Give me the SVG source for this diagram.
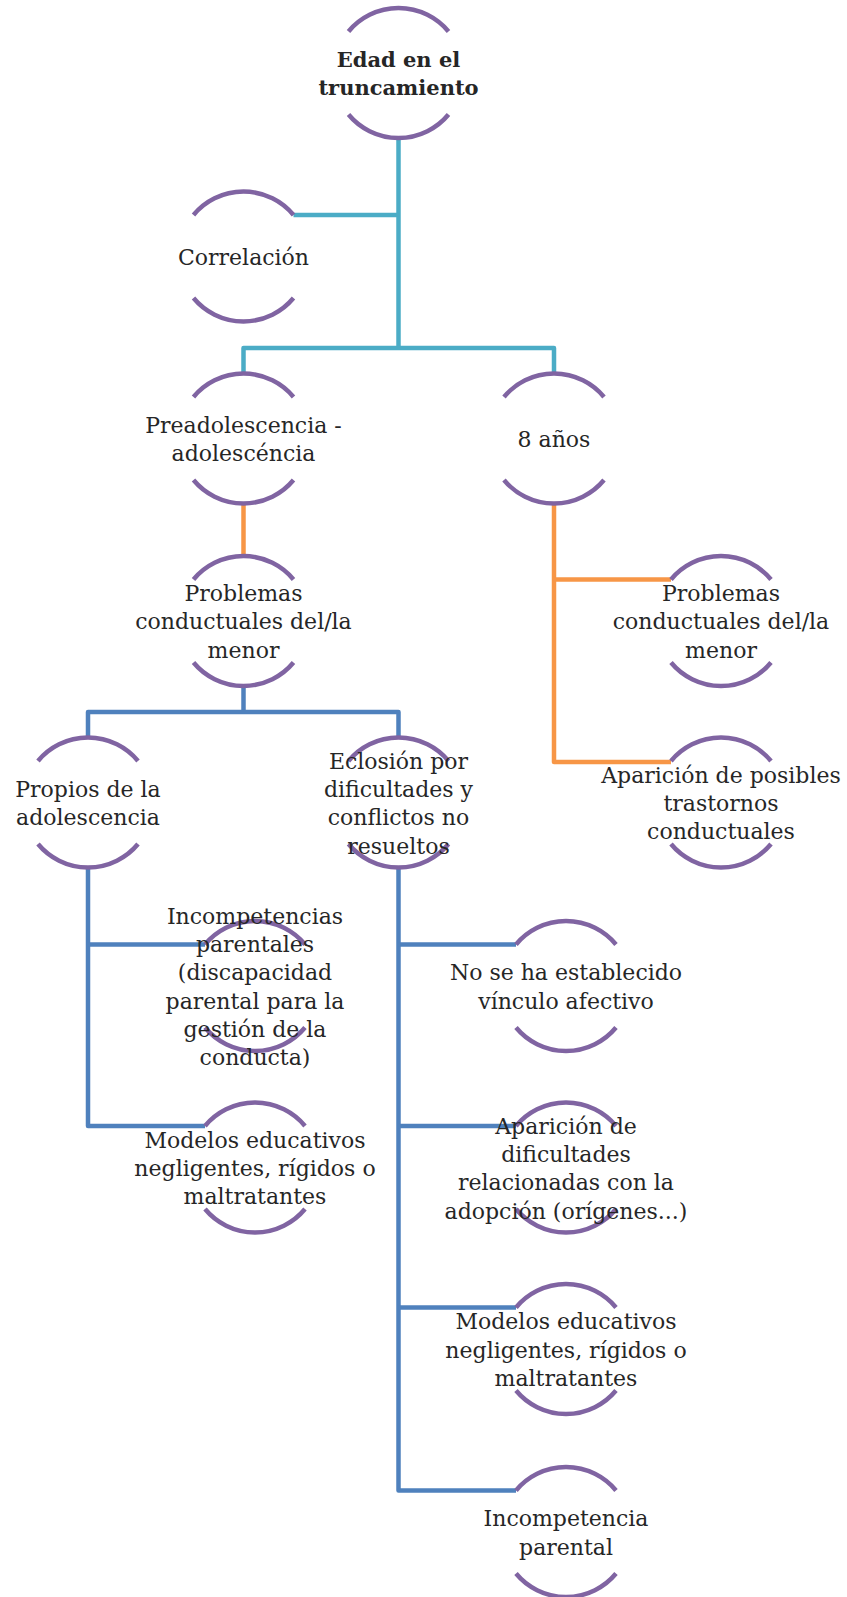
<svg xmlns="http://www.w3.org/2000/svg" xmlns:xlink="http://www.w3.org/1999/xlink" width="847" height="1597" viewBox="0 0 847 1597">
<style>
.arc{fill:none;stroke:#8064A2;stroke-width:4.5}
.lbl{font-family:"DejaVu Serif","Liberation Serif",serif;font-size:22px;fill:#262626;text-anchor:middle}
.bold{font-weight:bold;font-size:21px}
.c1{fill:none;stroke:#4BACC6;stroke-width:4.5;stroke-linejoin:round}
.c2{fill:none;stroke:#F79646;stroke-width:4.5;stroke-linejoin:round}
.c3{fill:none;stroke:#4F81BD;stroke-width:4.5;stroke-linejoin:round}
</style>
<defs>
<g id="ring">
<path class="arc" d="M-50 -41.5 A65 65 0 0 1 50 -41.5"/>
<path class="arc" d="M-50 41.5 A65 65 0 0 0 50 41.5"/>
</g>
</defs>
<rect width="847" height="1597" fill="#ffffff"/>
<g id="connectors">
<path class="c1" d="M398.5 138 V348"/>
<path class="c1" d="M398.5 215 H293.5"/>
<path class="c1" d="M243.5 373.5 V348 H554 V373.5"/>
<path class="c2" d="M243.5 503.5 V556"/>
<path class="c2" d="M554 503.5 V762 H671"/>
<path class="c2" d="M554 579.5 H671"/>
<path class="c3" d="M243.5 686 V712"/>
<path class="c3" d="M88 737.5 V712 H398.5 V737.5"/>
<path class="c3" d="M88 867.5 V1126 H205"/>
<path class="c3" d="M88 944.5 H205"/>
<path class="c3" d="M398.5 867.5 V1490.5 H516"/>
<path class="c3" d="M398.5 944.5 H516"/>
<path class="c3" d="M398.5 1126 H516"/>
<path class="c3" d="M398.5 1307.5 H516"/>
</g>
<g id="n-root">
<use href="#ring" xlink:href="#ring" transform="translate(398.5,73)"/>
<text class="lbl bold" x="398.5"><tspan x="398.5" y="67">Edad en el</tspan><tspan x="398.5" y="95">truncamiento</tspan></text>
</g>
<g id="n-correlacion">
<use href="#ring" xlink:href="#ring" transform="translate(243.5,256.5)"/>
<text class="lbl" x="243.5" y="264.5">Correlación</text>
</g>
<g id="n-preadolescencia">
<use href="#ring" xlink:href="#ring" transform="translate(243.5,438.5)"/>
<text class="lbl"><tspan x="243.5" y="432.5">Preadolescencia -</tspan><tspan x="243.5" y="460.8">adolescéncia</tspan></text>
</g>
<g id="n-8anos">
<use href="#ring" xlink:href="#ring" transform="translate(554,438.5)"/>
<text class="lbl" x="554" y="447">8 años</text>
</g>
<g id="n-problemas-l">
<use href="#ring" xlink:href="#ring" transform="translate(243.5,621)"/>
<text class="lbl"><tspan x="243.5" y="601">Problemas</tspan><tspan x="243.5" y="629.3">conductuales del/la</tspan><tspan x="243.5" y="657.6">menor</tspan></text>
</g>
<g id="n-problemas-r">
<use href="#ring" xlink:href="#ring" transform="translate(721,621)"/>
<text class="lbl"><tspan x="721" y="601">Problemas</tspan><tspan x="721" y="629.3">conductuales del/la</tspan><tspan x="721" y="657.6">menor</tspan></text>
</g>
<g id="n-aparicion-trastornos">
<use href="#ring" xlink:href="#ring" transform="translate(721,802.5)"/>
<text class="lbl"><tspan x="721" y="782.7">Aparición de posibles</tspan><tspan x="721" y="811">trastornos</tspan><tspan x="721" y="839.3">conductuales</tspan></text>
</g>
<g id="n-propios">
<use href="#ring" xlink:href="#ring" transform="translate(88,802.5)"/>
<text class="lbl"><tspan x="88" y="797">Propios de la</tspan><tspan x="88" y="825.3">adolescencia</tspan></text>
</g>
<g id="n-eclosion">
<use href="#ring" xlink:href="#ring" transform="translate(398.5,802.5)"/>
<text class="lbl"><tspan x="398.5" y="768.6">Eclosión por</tspan><tspan x="398.5" y="796.9">dificultades y</tspan><tspan x="398.5" y="825.2">conflictos no</tspan><tspan x="398.5" y="853.5">resueltos</tspan></text>
</g>
<g id="n-incompetencias-l">
<use href="#ring" xlink:href="#ring" transform="translate(255,986)"/>
<text class="lbl"><tspan x="255" y="923.8">Incompetencias</tspan><tspan x="255" y="952.1">parentales</tspan><tspan x="255" y="980.4">(discapacidad</tspan><tspan x="255" y="1008.7">parental para la</tspan><tspan x="255" y="1037">gestión de la</tspan><tspan x="255" y="1065.3">conducta)</tspan></text>
</g>
<g id="n-modelos-l">
<use href="#ring" xlink:href="#ring" transform="translate(255,1167.5)"/>
<text class="lbl"><tspan x="255" y="1147.7">Modelos educativos</tspan><tspan x="255" y="1176">negligentes, rígidos o</tspan><tspan x="255" y="1204.3">maltratantes</tspan></text>
</g>
<g id="n-vinculo">
<use href="#ring" xlink:href="#ring" transform="translate(566,986)"/>
<text class="lbl"><tspan x="566" y="980.4">No se ha establecido</tspan><tspan x="566" y="1008.7">vínculo afectivo</tspan></text>
</g>
<g id="n-aparicion-dificultades">
<use href="#ring" xlink:href="#ring" transform="translate(566,1167.5)"/>
<text class="lbl"><tspan x="566" y="1133.6">Aparición de</tspan><tspan x="566" y="1161.9">dificultades</tspan><tspan x="566" y="1190.2">relacionadas con la</tspan><tspan x="566" y="1218.5">adopción (orígenes...)</tspan></text>
</g>
<g id="n-modelos-r">
<use href="#ring" xlink:href="#ring" transform="translate(566,1349)"/>
<text class="lbl"><tspan x="566" y="1329.2">Modelos educativos</tspan><tspan x="566" y="1357.5">negligentes, rígidos o</tspan><tspan x="566" y="1385.8">maltratantes</tspan></text>
</g>
<g id="n-incompetencia-r">
<use href="#ring" xlink:href="#ring" transform="translate(566,1532)"/>
<text class="lbl"><tspan x="566" y="1526.4">Incompetencia</tspan><tspan x="566" y="1554.7">parental</tspan></text>
</g>
</svg>
